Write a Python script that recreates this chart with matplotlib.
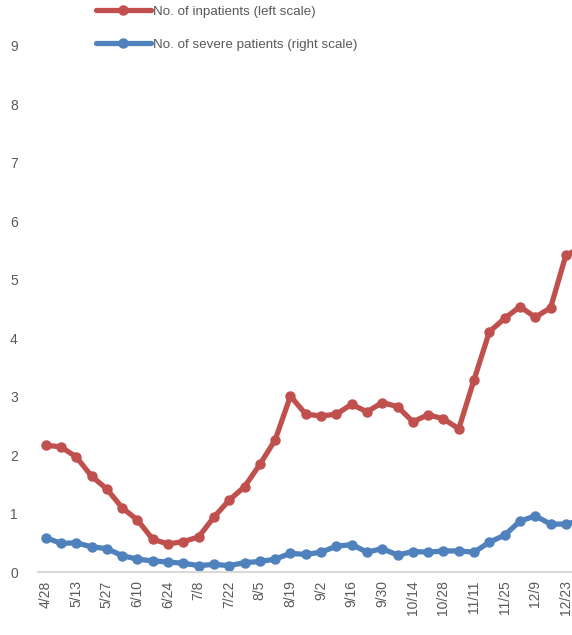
import matplotlib.pyplot as plt

# Weekly values (last point sits just past the right edge)
inpatients = [2.17, 2.14, 1.97, 1.64, 1.42, 1.10, 0.89, 0.56, 0.48, 0.52,
              0.60, 0.94, 1.23, 1.46, 1.84, 2.26, 3.01, 2.70, 2.67, 2.70,
              2.87, 2.74, 2.90, 2.83, 2.57, 2.69, 2.62, 2.45, 3.29, 4.11,
              4.34, 4.54, 4.36, 4.52, 5.42, 5.55]
severe = [0.59, 0.49, 0.50, 0.43, 0.40, 0.28, 0.22, 0.19, 0.17, 0.15,
          0.11, 0.13, 0.11, 0.16, 0.18, 0.22, 0.32, 0.30, 0.34, 0.44,
          0.47, 0.34, 0.40, 0.29, 0.35, 0.34, 0.36, 0.36, 0.34, 0.51,
          0.63, 0.87, 0.96, 0.82, 0.82, 0.88]
tick_labels = ['4/28', '5/13', '5/27', '6/10', '6/24', '7/8', '7/22', '8/5',
               '8/19', '9/2', '9/16', '9/30', '10/14', '10/28', '11/11',
               '11/25', '12/9', '12/23']

RED = '#C0504D'
BLUE = '#4F81BD'
GREY = '#595959'

plt.rcParams['font.family'] = ['Liberation Sans', 'DejaVu Sans']

fig = plt.figure(figsize=(5.72, 6.35), dpi=100)
ax = fig.add_axes([0.0664, 0.0992, 0.9336, 0.8284])

x = list(range(len(inpatients)))
ax.plot(x, inpatients, color=RED, lw=3.8, marker='o', ms=6.5,
        label='No. of inpatients (left scale)', solid_capstyle='round')
ax.plot(x, severe, color=BLUE, lw=3.8, marker='o', ms=6.5,
        label='No. of severe patients (right scale)', solid_capstyle='round')

ax.set_xlim(-0.5, 34.4)
ax.set_ylim(0, 9)
ax.set_yticks(range(10))
ax.set_xticks(range(0, 2 * len(tick_labels), 2))
ax.set_xticklabels(tick_labels, rotation=90)

for s in ['top', 'right', 'left']:
    ax.spines[s].set_visible(False)
ax.spines['bottom'].set_color('#D9D9D9')
ax.spines['bottom'].set_linewidth(1.5)
ax.tick_params(axis='both', length=0, labelsize=10, colors=GREY)
ax.tick_params(axis='x', pad=6)
for lbl in ax.get_yticklabels():
    lbl.set_horizontalalignment('center')
    lbl.set_x(-0.036)

ax.legend(loc='upper left', bbox_to_anchor=(0.168, 0.991),
          bbox_transform=fig.transFigure, frameon=False, fontsize=9.6,
          handlelength=4.1, handletextpad=0.15, labelspacing=1.55,
          labelcolor=GREY, borderaxespad=0, borderpad=0)

fig.savefig('out.png', dpi=100)
